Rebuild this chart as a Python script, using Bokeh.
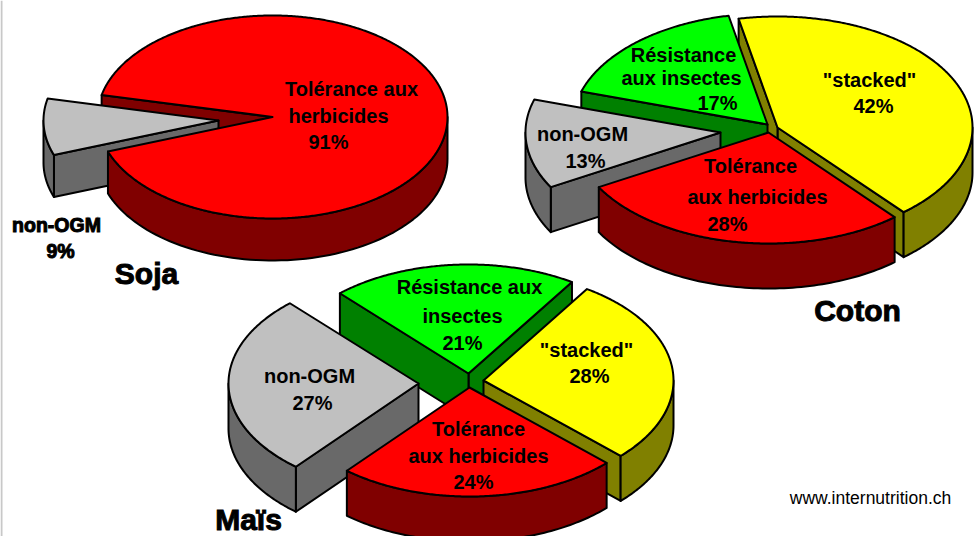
import numpy as np
from bokeh.embed import file_html
from bokeh.resources import INLINE
from bokeh.plotting import figure
from bokeh.models import Range1d
from bokeh.core.properties import value

# ---- data: shares in percent, counter-clockwise order ----
soja_names = ["non-OGM", "Tolérance aux herbicides"]
soja_values = [9, 91]
coton_names = ["Résistance aux insectes", "non-OGM", "Tolérance aux herbicides", '"stacked"']
coton_values = [17, 13, 28, 42]
mais_names = ["Résistance aux insectes", "non-OGM", "Tolérance aux herbicides", '"stacked"']
mais_values = [21, 27, 24, 28]

titles = ["Soja", "Coton", "Maïs"]
credit = "www.internutrition.ch"
soja_lines = ["Tolérance aux", "herbicides", "91%"]
soja_outside_lines = ["non-OGM", "9%"]
coton_lines = ["Résistance", "aux insectes", "17%", '"stacked"', "42%", "non-OGM", "13%",
               "Tolérance", "aux herbicides", "28%"]
mais_lines = ["Résistance aux", "insectes", "21%", '"stacked"', "28%", "non-OGM", "27%",
              "Tolérance", "aux herbicides", "24%"]

# ---- layout ----
COLORS = {
    "non-OGM": ("#c0c0c0", "#696969"),
    "Tolérance aux herbicides": ("#ff0000", "#800000"),
    "Résistance aux insectes": ("#00ff00", "#008000"),
    '"stacked"': ("#ffff00", "#808000"),
}
pies = [
    dict(names=soja_names, values=soja_values, start=167.5, rx=175, ry=101.5, depth=42,
         centers=[(218, 120), (272, 116.5)], order=[1, 0, 1], ),
    dict(names=coton_names, values=coton_values, start=101.5, rx=195, ry=111, depth=45,
         centers=[(767, 124), (720, 132), (768, 132), (777, 127)], order=[3, 0, 1, 2]),
    dict(names=mais_names, values=mais_values, start=57.0, rx=190, ry=109, depth=45,
         centers=[(468, 373), (418, 383), (469, 387), (483, 380)], order=[0, 1, 3, 2]),
]

soja_pos = [(351, 88), (338, 115), (328, 141)]
soja_outside_pos = [(56, 224), (60, 250)]
coton_pos = [(683, 54), (681, 77), (717, 102), (869, 79), (873, 105), (582, 133), (585, 160),
             (750, 165), (757, 196), (727, 223)]
mais_pos = [(469, 286), (462, 315), (462, 342), (586, 349), (589, 375), (309, 375), (312, 402),
            (478, 428), (478, 455), (473, 481)]
title_pos = [(146, 273), (857, 310), (248, 519)]
credit_pos = (870, 497)

p = figure(width=975, height=536, x_range=Range1d(0, 975), y_range=Range1d(536, 0),
           toolbar_location=None, output_backend="svg", min_border=0,
           x_axis_type=None, y_axis_type=None)
p.grid.visible = False
p.outline_line_color = None
p.background_fill_color = "white"

LINE = dict(line_color="black", line_width=2, line_join="round")


def pt(c, rx, ry, t):
    r = np.radians(t)
    return c[0] + rx * np.cos(r), c[1] - ry * np.sin(r)


def radial_wall(c, rx, ry, d, t, color):
    x, y = pt(c, rx, ry, t)
    p.patch([c[0], x, x, c[0]], [c[1], y, y + d, c[1] + d], fill_color=color, **LINE)


def outer_wall(c, rx, ry, d, a, b, color):
    for lo, hi in ((180, 360), (540, 720)):
        s, e = max(a, lo), min(b, hi)
        if e > s:
            ts = np.linspace(s, e, 80)
            xs, ys = pt(c, rx, ry, ts)
            p.patch(np.r_[xs, xs[::-1]], np.r_[ys, ys[::-1] + d], fill_color=color, **LINE)


def slice_parts(pie, i):
    vals = pie["values"]
    a = pie["start"] + sum(vals[:i]) * 3.6
    b = a + vals[i] * 3.6
    return a, b


def draw_radials(pie, i):
    a, b = slice_parts(pie, i)
    c = pie["centers"][i]
    dark = COLORS[pie["names"][i]][1]
    if np.cos(np.radians(a)) > 0:
        radial_wall(c, pie["rx"], pie["ry"], pie["depth"], a, dark)
    if np.cos(np.radians(b)) < 0:
        radial_wall(c, pie["rx"], pie["ry"], pie["depth"], b, dark)


def draw_body(pie, i):
    a, b = slice_parts(pie, i)
    c = pie["centers"][i]
    light, dark = COLORS[pie["names"][i]]
    outer_wall(c, pie["rx"], pie["ry"], pie["depth"], a, b, dark)
    ts = np.linspace(a, b, max(int(b - a), 2) * 2)
    xs, ys = pt(c, pie["rx"], pie["ry"], ts)
    p.patch(np.r_[c[0], xs], np.r_[c[1], ys], fill_color=light, **LINE)


for pie in pies:
    order = pie["order"]
    seen = set()
    for n, i in enumerate(order):
        if order.count(i) > 1 and i not in seen:
            # a slice wrapping around another: its inner wall lies behind the other slice
            draw_radials(pie, i)
            seen.add(i)
            continue
        if i not in seen:
            draw_radials(pie, i)
        draw_body(pie, i)

# left page edge strip
p.quad(left=[0], right=[2], top=[0], bottom=[536], fill_color="#c8c8c8", line_color=None)


def label(lines, pos, size, style="bold", outline=None):
    p.text(x=[q[0] for q in pos], y=[q[1] for q in pos], text=lines,
           text_font=value("Liberation Sans"), text_font_style=style, text_font_size=size,
           text_align="center", text_baseline="middle", text_color="black",
           text_outline_color=outline)


label(soja_lines, soja_pos, "20px")
label(soja_outside_lines, soja_outside_pos, "19.5px", outline="black")
label(coton_lines, coton_pos, "20px")
label(mais_lines, mais_pos, "20px")
label(titles, title_pos, "30px", outline="black")
label([credit], [credit_pos], "17.5px", "normal")

open("out.html", "w").write(file_html(p, INLINE))
